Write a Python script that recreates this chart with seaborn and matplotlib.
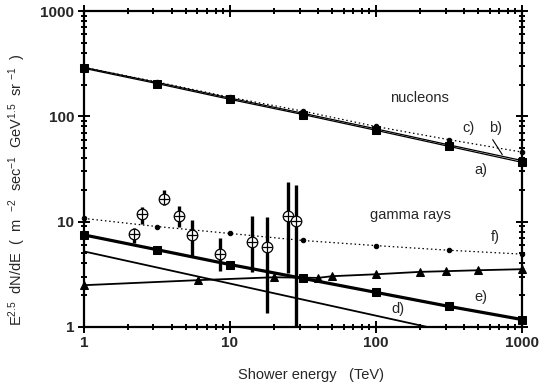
import numpy as np
import pandas as pd
import seaborn as sns
import matplotlib
matplotlib.use("Agg")
import matplotlib.pyplot as plt
from matplotlib.ticker import LogLocator, NullFormatter, FixedLocator, FixedFormatter

# ---------------- data ----------------
energy7 = [1, 3.16, 10, 31.6, 100, 316, 1000]
nucleons_a = [286, 205, 145, 104, 73.6, 51.8, 36.5]
nucleons_b = [292, 210, 149, 107, 76.0, 53.5, 38.0]
nucleons_c = [292, 212, 152, 112, 80, 60, 45.7]

gamma_e = [7.46, 5.4, 3.9, 2.88, 2.12, 1.56, 1.17]
gamma_f = [10.7, 8.96, 7.7, 6.6, 5.9, 5.33, 4.9]

gamma_d_x = [1, 1000]
gamma_d_y = [5.2, 0.63]

tri_x = [1, 6.07, 20, 40, 50, 100, 200, 300, 500, 1000]
tri_y = [2.48, 2.77, 2.95, 2.91, 3.02, 3.15, 3.32, 3.37, 3.44, 3.52]

obs_x = [2.2, 2.51, 3.52, 4.52, 5.52, 8.5, 14.1, 17.9, 25.2, 28.2]
obs_y = [7.6, 11.8, 16.5, 11.4, 7.47, 4.92, 6.45, 5.78, 11.2, 10.2]
obs_hi = [8.65, 13.6, 20.0, 13.9, 10.4, 6.95, 11.2, 11.0, 23.5, 22.4]
obs_lo = [6.3, 9.45, 14.4, 8.8, 4.64, 3.41, 3.34, 1.36, 3.22, 0.8]

tick_vals = [1, 10, 100, 1000]
tick_labels = ["1", "10", "100", "1000"]

# ---------------- style ----------------
sns.set_theme(style="ticks")
plt.rcParams['font.family'] = ['Liberation Sans', 'DejaVu Sans']
plt.rcParams['mathtext.fontset'] = 'custom'
plt.rcParams['mathtext.rm'] = 'Liberation Sans'
plt.rcParams['mathtext.it'] = 'Liberation Sans'

fig = plt.figure(figsize=(5.55, 3.83), dpi=100)
ax = fig.add_axes([0.151, 0.147, 0.7895, 0.824])
ax.set_xscale('log')
ax.set_yscale('log')
ax.set_xlim(1, 1000)
ax.set_ylim(1, 1000)

k = 'black'
df7 = pd.DataFrame({'E': energy7, 'a': nucleons_a, 'b': nucleons_b,
                    'c': nucleons_c, 'e': gamma_e, 'f': gamma_f})

# nucleons
sns.lineplot(data=df7, x='E', y='b', ax=ax, color=k, lw=0.9, sort=False,
             clip_on=False)
sns.lineplot(data=df7, x='E', y='a', ax=ax, color=k, lw=0.9, sort=False,
             marker='s', markersize=5.5, markeredgecolor=k, clip_on=False)
sns.lineplot(data=df7, x='E', y='c', ax=ax, color=k, lw=0.9, sort=False,
             linestyle=(0, (1.2, 2.2)), marker='o', markersize=3.2,
             markeredgecolor=k, clip_on=False)

# gamma rays
sns.lineplot(data=df7, x='E', y='f', ax=ax, color=k, lw=0.9, sort=False,
             linestyle=(0, (1.2, 2.2)), marker='o', markersize=3.2,
             markeredgecolor=k, clip_on=False)
sns.lineplot(data=df7, x='E', y='e', ax=ax, color=k, lw=2.3, sort=False,
             marker='s', markersize=5.5, markeredgecolor=k, clip_on=False)
sns.lineplot(x=gamma_d_x, y=gamma_d_y, ax=ax, color=k, lw=1.3, sort=False)
sns.lineplot(x=tri_x, y=tri_y, ax=ax, color=k, lw=1.3, sort=False,
             marker='^', markersize=6, markeredgecolor=k, clip_on=False)

# observations
ax.vlines(obs_x, obs_lo, obs_hi, colors=k, lw=2.4, zorder=5)
sns.scatterplot(x=obs_x, y=obs_y, ax=ax, marker='o', s=58,
                facecolor='white', edgecolor=k, linewidth=0.9, zorder=6)
sns.scatterplot(x=obs_x, y=obs_y, ax=ax, marker='+', s=58,
                color=k, linewidth=0.9, zorder=7)

ax.set_xlim(1, 1000)
ax.set_ylim(1, 1000)

# annotations
fs = 10.5
ax.text(200, 150, "nucleons", ha='center', va='center', fontsize=fs)
ax.text(433, 77.6, "c)", ha='center', va='center', fontsize=fs)
ax.text(661, 77.6, "b)", ha='center', va='center', fontsize=fs)
ax.plot([630, 733], [60, 43.2], color=k, lw=0.8)
ax.text(524, 31.1, "a)", ha='center', va='center', fontsize=fs)
ax.text(171, 11.6, "gamma rays", ha='center', va='center', fontsize=fs)
ax.text(661, 7.1, "f)", ha='center', va='center', fontsize=fs)
ax.text(524, 1.905, "e)", ha='center', va='center', fontsize=fs)
ax.text(142, 1.46, "d)", ha='center', va='center', fontsize=fs)

# axes styling
for s in ax.spines.values():
    s.set_linewidth(1.6)
    s.set_color(k)
ax.xaxis.set_major_locator(FixedLocator(tick_vals))
ax.xaxis.set_major_formatter(FixedFormatter(tick_labels))
ax.yaxis.set_major_locator(FixedLocator(tick_vals))
ax.yaxis.set_major_formatter(FixedFormatter(tick_labels))
ax.xaxis.set_minor_locator(LogLocator(base=10, subs=np.arange(2, 10)))
ax.yaxis.set_minor_locator(LogLocator(base=10, subs=np.arange(2, 10)))
ax.xaxis.set_minor_formatter(NullFormatter())
ax.yaxis.set_minor_formatter(NullFormatter())
ax.tick_params(which='both', direction='inout', top=True, right=True,
               color=k, width=1.4)
ax.tick_params(which='major', length=8)
ax.tick_params(which='minor', length=5)
ax.tick_params(axis='both', which='major', labelsize=11, pad=3)
for lab in ax.get_xticklabels() + ax.get_yticklabels():
    lab.set_fontweight('bold')

ax.set_xlabel("Shower energy   (TeV)", fontsize=10.5)
ax.xaxis.set_label_coords(0.518, -0.131)
ax.set_ylabel(r"E$^{2.5}$  dN/dE  (  m  $^{-2}$  sec$^{-1}$  GeV$^{1.5}$  sr $^{-1}$  )",
              fontsize=10.5)
ax.yaxis.set_label_coords(-0.128, 0.434)

fig.savefig("out.png", dpi=100)
